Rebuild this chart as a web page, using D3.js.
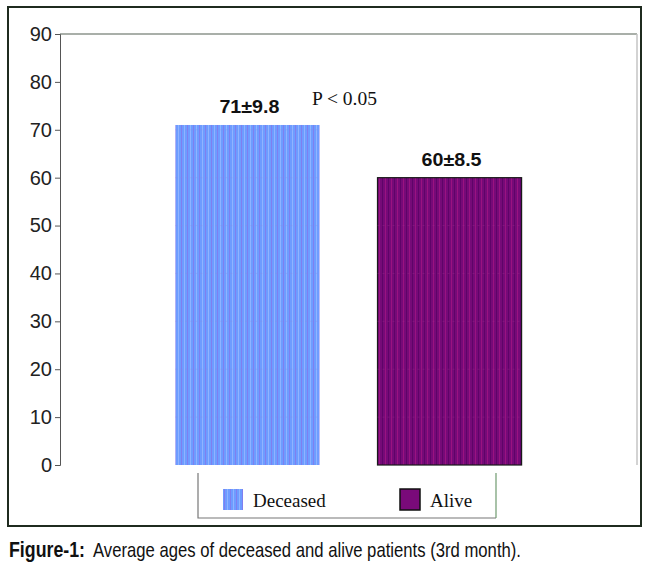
<!DOCTYPE html>
<html>
<head>
<meta charset="utf-8">
<script src="https://cdn.jsdelivr.net/npm/d3@7"></script>
<style>
  body { margin: 0; background: #fff; }
  svg { display: block; }
</style>
</head>
<body>
<svg id="chart" width="650" height="569"></svg>
<script>
// chart data
var groups = ["Deceased", "Alive"];
var meanAge = [71, 60];
var sdAge = [9.8, 8.5];
var yTicks = [0, 10, 20, 30, 40, 50, 60, 70, 80, 90];
var pText = "P < 0.05";
var captionBold = "Figure-1:";
var captionText = "Average ages of deceased and alive patients (3rd month).";

var svg = d3.select("#chart");
var plot = {left: 60, right: 637, top: 34, bottom: 465};

var x = d3.scaleBand().domain(groups)
    .range([plot.left, plot.right])
    .paddingInner(0.287).paddingOuter(0.571);
var y = d3.scaleLinear().domain([0, 90]).range([plot.bottom, plot.top]);

// striped fills
var defs = svg.append("defs");
function stripes(id, base, stripe, stripe2) {
    var p = defs.append("pattern").attr("id", id)
        .attr("patternUnits", "userSpaceOnUse")
        .attr("width", 6).attr("height", 10);
    p.append("rect").attr("width", 6).attr("height", 10).attr("fill", base);
    p.append("rect").attr("x", 1).attr("width", 1).attr("height", 10).attr("fill", stripe);
    p.append("rect").attr("x", 4).attr("width", 1).attr("height", 10).attr("fill", stripe2);
}
stripes("pDeceased", "#6e9cff", "#7f7ff0", "#8fb4ff");
stripes("pAlive", "#760a78", "#9a1280", "#5e0468");
var fills = {Deceased: "url(#pDeceased)", Alive: "url(#pAlive)"};
var swatchFills = {Deceased: "url(#pDeceased)", Alive: "#7a0a7a"};

// outer frame
svg.append("rect").attr("x", 8).attr("y", 7).attr("width", 633).attr("height", 519)
    .attr("fill", "none").attr("stroke", "#1f2b1f").attr("stroke-width", 2);

// top and right plot edges
svg.append("line").attr("x1", plot.left).attr("x2", plot.right)
    .attr("y1", plot.top).attr("y2", plot.top)
    .attr("stroke", "#556055").attr("stroke-width", 1.2);
svg.append("line").attr("x1", plot.right).attr("x2", plot.right)
    .attr("y1", plot.top).attr("y2", plot.bottom)
    .attr("stroke", "#c4c4c4").attr("stroke-width", 1.5);

// bars
var data = groups.map(function (g, i) { return {g: g, m: meanAge[i], sd: sdAge[i]}; });
svg.selectAll("rect.bar").data(data).enter().append("rect")
    .attr("class", "bar")
    .attr("x", function (d) { return x(d.g); })
    .attr("y", function (d) { return y(d.m); })
    .attr("width", x.bandwidth())
    .attr("height", function (d) { return y(0) - y(d.m); })
    .attr("fill", function (d) { return fills[d.g]; })
    .attr("stroke", function (d) { return d.g === "Alive" ? "#1a1a1a" : "none"; })
    .attr("stroke-width", 1.2);

// faint grid lines seen through the bars
data.forEach(function (d) {
    yTicks.filter(function (t) { return t > 0 && t < d.m; }).forEach(function (t) {
        svg.append("line")
            .attr("x1", x(d.g)).attr("x2", x(d.g) + x.bandwidth())
            .attr("y1", y(t)).attr("y2", y(t))
            .attr("stroke", d.g === "Alive" ? "#a03090" : "#8a8ae8")
            .attr("stroke-width", 1).attr("stroke-dasharray", "2,3")
            .attr("opacity", 0.35);
    });
});

// value labels
svg.selectAll("text.val").data(data).enter().append("text")
    .attr("class", "val")
    .attr("x", function (d) { return x(d.g) + x.bandwidth() / 2 + 2; })
    .attr("y", function (d) { return y(d.m) - 12; })
    .attr("text-anchor", "middle")
    .attr("font-family", "Liberation Sans, Arial, sans-serif")
    .attr("font-weight", "bold").attr("font-size", 19).attr("fill", "#111")
    .attr("textLength", 60).attr("lengthAdjust", "spacingAndGlyphs")
    .text(function (d) { return d.m + "±" + d.sd; });

svg.append("text").attr("x", 312).attr("y", 105)
    .attr("font-family", "Liberation Serif, Times New Roman, serif")
    .attr("font-size", 19.5).attr("fill", "#111")
    .text(pText);

// y axis
var yAxis = d3.axisLeft(y).tickValues(yTicks).tickSize(5).tickPadding(3)
    .tickFormat(d3.format("d"));
var ya = svg.append("g").attr("transform", "translate(" + plot.left + ",0)").call(yAxis);
ya.select(".domain").attr("stroke", "#555");
ya.selectAll(".tick line").attr("stroke", "#555");
ya.selectAll(".tick text")
    .attr("font-family", "Liberation Sans, Arial, sans-serif")
    .attr("font-size", 20).attr("fill", "#222");

// legend box (open at the top)
svg.append("path").attr("d", "M198,473V518H496")
    .attr("fill", "none").attr("stroke", "#777").attr("stroke-width", 1.2);
svg.append("line").attr("x1", 496).attr("x2", 496).attr("y1", 473).attr("y2", 518)
    .attr("stroke", "#6f9a6f").attr("stroke-width", 1.2);

var legendX = [223, 400];
var lg = svg.selectAll("g.leg").data(groups).enter().append("g")
    .attr("class", "leg")
    .attr("transform", function (d, i) { return "translate(" + legendX[i] + ",489)"; });
lg.append("rect").attr("width", 20).attr("height", 21)
    .attr("fill", function (d) { return swatchFills[d]; })
    .attr("stroke", function (d) { return d === "Alive" ? "#111" : "none"; })
    .attr("stroke-width", 1.5);
lg.append("text").attr("x", 30).attr("y", 18)
    .attr("font-family", "Liberation Serif, Times New Roman, serif")
    .attr("font-size", 19).attr("fill", "#111")
    .text(function (d) { return d; });

// caption
svg.append("text").attr("x", 9).attr("y", 557)
    .attr("font-family", "Liberation Sans Narrow, Liberation Sans, Arial, sans-serif")
    .attr("font-weight", "bold").attr("font-size", 22).attr("fill", "#111")
    .attr("textLength", 76).attr("lengthAdjust", "spacingAndGlyphs")
    .text(captionBold);
svg.append("text").attr("x", 93).attr("y", 557)
    .attr("font-family", "Liberation Sans Narrow, Liberation Sans, Arial, sans-serif")
    .attr("font-size", 21).attr("fill", "#111")
    .attr("textLength", 428).attr("lengthAdjust", "spacingAndGlyphs")
    .text(captionText);
</script>
</body>
</html>
